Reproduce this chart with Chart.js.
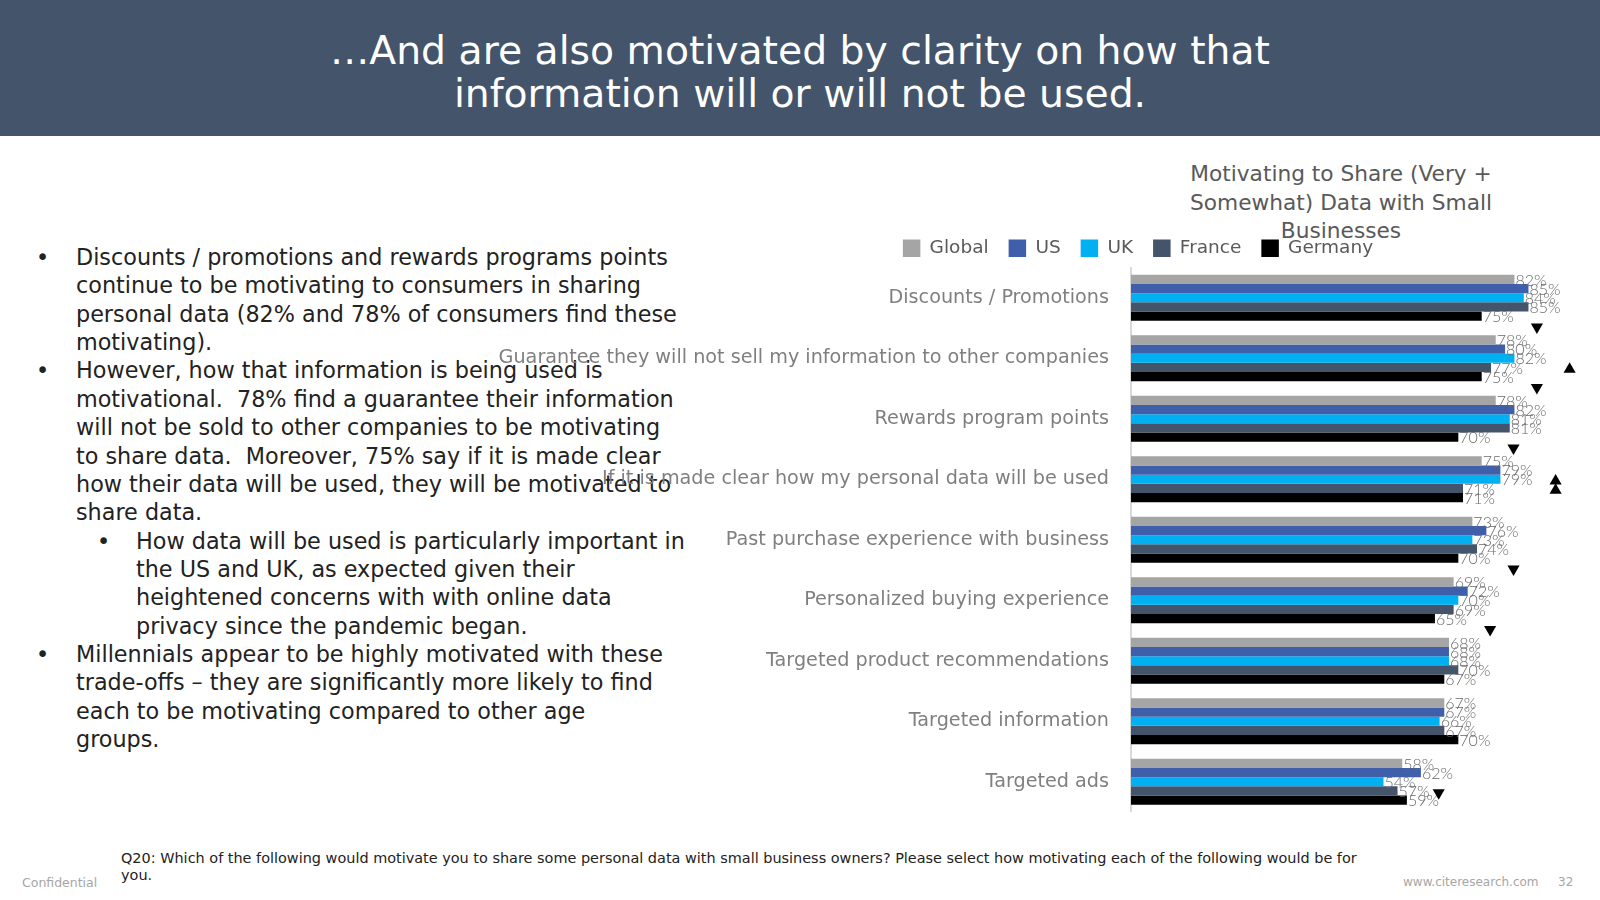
<!DOCTYPE html>
<html><head><meta charset="utf-8">
<script src="https://cdn.jsdelivr.net/npm/chart.js@4.4.1/dist/chart.umd.min.js"></script>
<style>
html,body{margin:0;padding:0;width:1600px;height:900px;overflow:hidden;background:#fff;font-family:"DejaVu Sans",sans-serif;}
#hdr{position:absolute;left:0;top:0;width:1600px;height:136px;background:#44546A;}
#hdr div{position:absolute;left:0;top:29px;width:1600px;text-align:center;color:#fff;font-size:39.3px;line-height:43px;white-space:nowrap;}
#bul{position:absolute;left:0;top:243px;font-size:22.3px;line-height:28.37px;color:#222;}
.ln{position:relative;white-space:nowrap;padding-left:76px;height:28.37px;}
.ln.sub{padding-left:136px;}
.ln b{position:absolute;font-weight:normal;left:36px;}
.ln.sub b{left:97px;}
#ctitle{position:absolute;left:1141px;top:160px;width:400px;text-align:center;font-size:21.7px;line-height:28.6px;color:#595959;}
#foot{position:absolute;left:121px;top:850px;font-size:14.45px;line-height:17px;color:#222;white-space:nowrap;}
#conf{position:absolute;left:22px;top:875px;font-size:12.5px;color:#a6a6a6;}
#web{position:absolute;left:1403px;top:875px;font-size:12px;color:#a6a6a6;}
#pg{position:absolute;left:1558px;top:875px;font-size:12px;color:#a6a6a6;}
#cv{position:absolute;left:488px;top:219px;}
</style></head>
<body>
<div id="hdr"><div>…And are also motivated by clarity on how that<br>information will or will not be used.</div></div>
<div id="bul">
<div class="ln"><b>•</b>Discounts / promotions and rewards programs points</div>
<div class="ln">continue to be motivating to consumers in sharing</div>
<div class="ln">personal data (82% and 78% of consumers find these</div>
<div class="ln">motivating).</div>
<div class="ln"><b>•</b>However, how that information is being used is</div>
<div class="ln">motivational.&nbsp; 78% find a guarantee their information</div>
<div class="ln">will not be sold to other companies to be motivating</div>
<div class="ln">to share data.&nbsp; Moreover, 75% say if it is made clear</div>
<div class="ln">how their data will be used, they will be motivated to</div>
<div class="ln">share data.</div>
<div class="ln sub"><b>•</b>How data will be used is particularly important in</div>
<div class="ln sub">the US and UK, as expected given their</div>
<div class="ln sub">heightened concerns with with online data</div>
<div class="ln sub">privacy since the pandemic began.</div>
<div class="ln"><b>•</b>Millennials appear to be highly motivated with these</div>
<div class="ln">trade-offs – they are significantly more likely to find</div>
<div class="ln">each to be motivating compared to other age</div>
<div class="ln">groups.</div>
</div>
<div id="ctitle">Motivating to Share (Very +<br>Somewhat) Data with Small<br>Businesses</div>
<canvas id="cv" width="1300" height="593"></canvas>
<div id="foot">Q20: Which of the following would motivate you to share some personal data with small business owners? Please select how motivating each of the following would be for<br>you.</div>
<div id="conf">Confidential</div>
<div id="web">www.citeresearch.com</div>
<div id="pg">32</div>
<script>
// ---- data ----
const categories = [
  'Discounts / Promotions',
  'Guarantee they will not sell my information to other companies',
  'Rewards program points',
  'If it is made clear how my personal data will be used',
  'Past purchase experience with business',
  'Personalized buying experience',
  'Targeted product recommendations',
  'Targeted information',
  'Targeted ads'
];
const seriesNames = ['Global', 'US', 'UK', 'France', 'Germany'];
const globalVals  = [82, 78, 78, 75, 73, 69, 68, 67, 58];
const usVals      = [85, 80, 82, 79, 76, 72, 68, 67, 62];
const ukVals      = [84, 82, 81, 79, 73, 70, 68, 66, 54];
const franceVals  = [85, 77, 81, 71, 74, 69, 70, 67, 57];
const germanyVals = [75, 75, 70, 71, 70, 65, 67, 70, 59];
// significance markers: category index, series, direction
const sigMarks = [
  {cat: 0, series: 'Germany', dir: 'down'},
  {cat: 1, series: 'UK', dir: 'up'},
  {cat: 1, series: 'Germany', dir: 'down'},
  {cat: 2, series: 'Germany', dir: 'down'},
  {cat: 3, series: 'US', dir: 'up'},
  {cat: 3, series: 'UK', dir: 'up'},
  {cat: 4, series: 'Germany', dir: 'down'},
  {cat: 5, series: 'Germany', dir: 'down'},
  {cat: 8, series: 'UK', dir: 'down'}
];

// ---- styles ----
const seriesColors = ['#A5A5A5', '#3F5FAA', '#00B0F0', '#44546A', '#000000'];
const CAT_PCT = 0.76;
const MARK_DX = 11.8;   // value units right of bar end
const MARK_DY = 0.18;   // category units below bar centre
const X_MAX = 140.5;

const seriesVals = [globalVals, usVals, ukVals, franceVals, germanyVals];

const datasets = seriesNames.map((name, i) => ({
  label: name,
  data: seriesVals[i],
  backgroundColor: seriesColors[i],
  borderWidth: 0,
  barPercentage: 1,
  categoryPercentage: CAT_PCT
}));

const annot = {
  id: 'annot',
  afterDatasetsDraw(chart) {
    const ctx = chart.ctx;
    const xs = chart.scales.x, ys = chart.scales.y;
    ctx.save();
    ctx.font = '300 16px Lato';
    ctx.fillStyle = '#6a6a6a';
    ctx.textBaseline = 'middle';
    ctx.textAlign = 'left';
    chart.data.datasets.forEach((ds, di) => {
      const meta = chart.getDatasetMeta(di);
      meta.data.forEach((el, i) => {
        ctx.fillText(ds.data[i] + '%', el.x + 1, el.y + 1);
      });
    });
    const catPx = ys.getPixelForValue(1) - ys.getPixelForValue(0);
    ctx.fillStyle = '#000';
    ctx.strokeStyle = '#000';
    ctx.lineWidth = 0;
    sigMarks.forEach(m => {
      const s = seriesNames.indexOf(m.series);
      const el = chart.getDatasetMeta(s).data[m.cat];
      const x = xs.getPixelForValue(seriesVals[s][m.cat] + MARK_DX);
      const y = el.y + MARK_DY * catPx;
      Chart.helpers.drawPoint(ctx, {pointStyle: 'triangle', radius: 7, rotation: m.dir === 'down' ? 180 : 0, borderWidth: 0}, x, y);
    });
    ctx.restore();
  }
};

new Chart(document.getElementById('cv'), {
  type: 'bar',
  data: {labels: categories, datasets},
  options: {
    indexAxis: 'y',
    responsive: false,
    animation: false,
    layout: {padding: 0},
    plugins: {
      legend: {
        display: true,
        position: 'top',
        labels: {
          boxWidth: 17.5, boxHeight: 17.5, padding: 20, color: '#595959',
          font: {family: 'DejaVu Sans', size: 18.5}
        }
      },
      tooltip: {enabled: false},
      title: {display: false}
    },
    scales: {
      x: {type: 'linear', display: false, min: 0, max: X_MAX},
      y: {
        type: 'category', offset: true,
        grid: {display: false, drawTicks: false},
        border: {display: true, color: '#d9d9d9', width: 2},
        ticks: {color: '#7f7f7f', font: {family: 'DejaVu Sans', size: 19.2}, padding: 22, autoSkip: false},
        afterFit(scale) { scale.width = 643; scale.paddingTop = 0; scale.paddingBottom = 0; }
      }
    }
  },
  plugins: [annot]
});
</script>
</body></html>
